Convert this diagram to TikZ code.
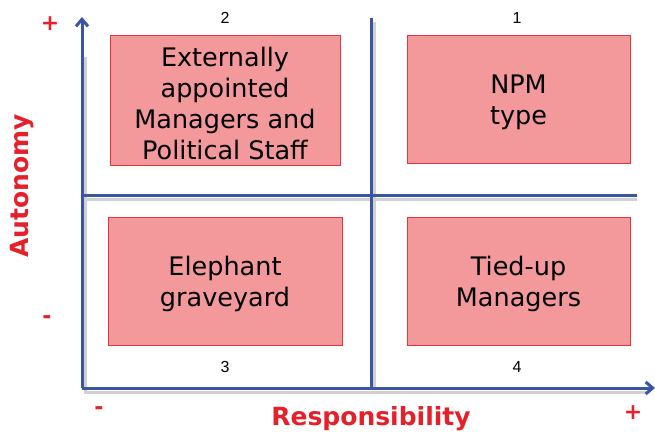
\documentclass[tikz,border=0pt]{standalone}
\usepackage{fontspec}
\setmainfont{DejaVu Sans}
\newfontfamily\numfont{Liberation Sans}
\usetikzlibrary{arrows.meta}
\definecolor{axisblue}{HTML}{3A55A5}
\definecolor{boxfill}{HTML}{F4999B}
\definecolor{boxline}{HTML}{E8343C}
\definecolor{labelred}{HTML}{E5202A}
\tikzset{
  axis/.style={axisblue, line width=3pt},
  axisshadow/.style={black!18, line width=3pt},
  quadbox/.style={draw=boxline, fill=boxfill, line width=1pt},
  quadtext/.style={font=\fontsize{25.5}{31}\selectfont, align=center, text=black},
  quadnum/.style={font=\numfont\fontsize{16}{18}\selectfont, text=black},
  axlabel/.style={font=\bfseries\fontsize{25}{28}\selectfont, text=labelred},
  sign/.style={font=\bfseries\fontsize{22}{26}\selectfont, text=labelred}
}
\begin{document}
\begin{tikzpicture}[x=1pt, y=-1pt]
  \useasboundingbox (0,0) rectangle (655,436);
  % axis end points
  \coordinate (o) at (82,388);
  \coordinate (ytop) at (82,17);
  \coordinate (xend) at (655,388);
  \coordinate (vtop) at (371,18);
  \coordinate (vbot) at (371,388);
  \coordinate (hleft) at (82,195);
  \coordinate (hright) at (637,195);
  % soft shadows under the lines
  \draw[axisshadow] ([shift={(3,4)}]vtop) -- ([shift={(3,0)}]vbot);
  \draw[axisshadow] ([shift={(0,4)}]hleft) -- ([shift={(0,4)}]hright);
  \draw[axisshadow] ([shift={(3,40)}]ytop) -- ([shift={(3,4)}]o) -- ([shift={(-8,4)}]xend);
  % quadrant dividers
  \draw[axis] (vtop) -- (vbot);
  \draw[axis] (hleft) -- (hright);
  % main axes
  \draw[axis, -{Straight Barb[length=7pt, width=12pt]}] (o) -- (ytop);
  \draw[axis, -{Straight Barb[length=7pt, width=12pt]}] (o) -- (xend);
  % quadrant boxes
  \node[quadbox, minimum width=230pt, minimum height=129pt] (b2) at (225,100.5) {};
  \node[quadbox, minimum width=223pt, minimum height=127pt] (b1) at (518.5,99.5) {};
  \node[quadbox, minimum width=234pt, minimum height=128pt] (b3) at (225,281) {};
  \node[quadbox, minimum width=223pt, minimum height=128pt] (b4) at (518.5,281) {};
  \node[quadtext] at ([yshift=-3pt]b2) {Externally\\appointed\\Managers and\\Political Staff};
  \node[quadtext] at ([yshift=-3pt]b1) {NPM\\type};
  \node[quadtext] at ([yshift=-3pt]b3) {Elephant\\graveyard};
  \node[quadtext] at ([yshift=-3pt]b4) {Tied-up\\Managers};
  % quadrant numbers
  \node[quadnum] (n2) at (225,18) {2};
  \node[quadnum] (n1) at (517,18) {1};
  \node[quadnum] (n3) at (225,367) {3};
  \node[quadnum] (n4) at (517,367) {4};
  % axis titles and signs
  \node[axlabel, rotate=90] (ylab) at (22,186) {Autonomy};
  \node[axlabel] (xlab) at (371,419) {Responsibility};
  \node[sign] (yp) at (50,24) {+};
  \node[sign] (ym) at (47,320) {-};
  \node[sign] (xm) at (99,411) {-};
  \node[sign] (xp) at (633,413) {+};
\end{tikzpicture}
\end{document}
